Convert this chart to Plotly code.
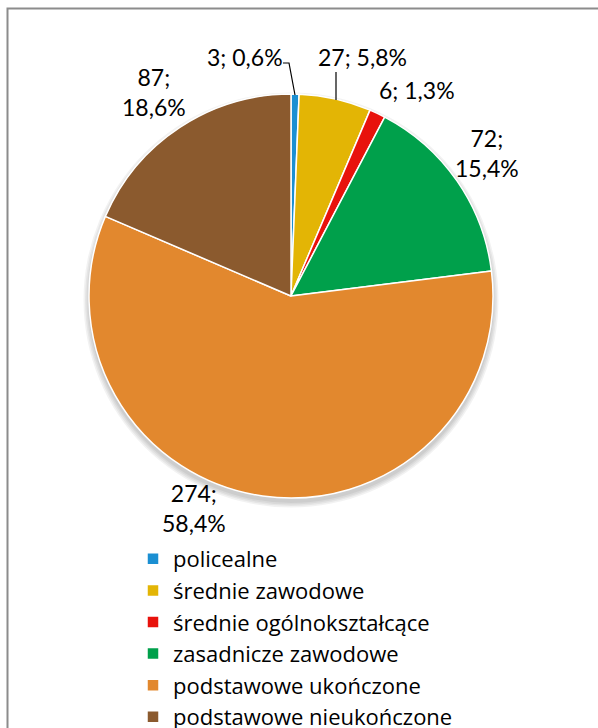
import plotly.graph_objects as go

W, H = 598, 728

categories = ["policealne", "średnie zawodowe", "średnie ogólnokształcące",
              "zasadnicze zawodowe", "podstawowe ukończone", "podstawowe nieukończone"]
values = [3, 27, 6, 72, 274, 87]
percent_labels = ["0,6%", "5,8%", "1,3%", "15,4%", "58,4%", "18,6%"]
colors = ["#1b8fd2", "#e3b505", "#e8120c", "#00a04b", "#e2882e", "#8b5a2e"]

LABEL_FONT = "Lato"
LEGEND_FONT = "Open Sans"

def px(x, y):
    return x / W, 1 - y / H

# pie geometry (pixels)
cx, cy, r = 291, 296, 202
x0, y0 = px(cx - r, cy + r)
x1, y1 = px(cx + r, cy - r)

fig = go.Figure()
fig.add_trace(go.Pie(
    labels=categories, values=values, sort=False, direction="clockwise", rotation=0,
    marker=dict(colors=colors, line=dict(color="white", width=1.5)),
    textinfo="none", hoverinfo="label+value+percent",
    domain=dict(x=[x0, x1], y=[y0, y1]),
))

# label placements (pixels) and line splitting
label_pos = [(245, 57, False), (362, 57, False), (417, 90, False),
             (487, 153, True), (194, 508, True), (154, 92, True)]
annotations = []
for v, p, (lx, ly, two) in zip(values, percent_labels, label_pos):
    txt = f"{v};<br>{p}" if two else f"{v}; {p}"
    ax, ay = px(lx, ly)
    annotations.append(dict(x=ax, y=ay, xref="paper", yref="paper", text=txt,
                            showarrow=False, xanchor="center", yanchor="middle",
                            font=dict(family=LABEL_FONT, size=23, color="#000000")))

shapes = []
# soft shadow below the pie
for i in range(4):
    rr = r + 1 + i * 1.5
    sx0, sy0 = px(cx - rr, cy + 4 + rr)
    sx1, sy1 = px(cx + rr, cy + 4 - rr)
    shapes.append(dict(type="circle", xref="paper", yref="paper", x0=sx0, y0=sy0, x1=sx1, y1=sy1,
                       fillcolor="rgba(0,0,0,0.05)", line=dict(width=0), layer="below"))
# leader lines
def path(points):
    d = ""
    for i, (x, y) in enumerate(points):
        X, Y = px(x, y)
        d += ("M" if i == 0 else "L") + f"{X},{Y} "
    return d
shapes.append(dict(type="path", xref="paper", yref="paper",
                   path=path([(283, 63), (289, 63), (295, 95)]),
                   line=dict(color="black", width=1.2)))
shapes.append(dict(type="path", xref="paper", yref="paper",
                   path=path([(336, 72), (336, 100)]),
                   line=dict(color="black", width=1.2)))
# outer frame (left and top edges only visible)
shapes.append(dict(type="path", xref="paper", yref="paper",
                   path=path([(7.5, 740), (7.5, 8.5), (620, 8.5)]),
                   line=dict(color="#8c8c8c", width=2), layer="above"))

lx, ly = px(133, 538)
fig.update_layout(
    width=W, height=H, margin=dict(l=0, r=0, t=0, b=0, autoexpand=False),
    paper_bgcolor="white", plot_bgcolor="white",
    showlegend=True,
    legend=dict(x=lx, y=ly, xanchor="left", yanchor="top", orientation="v",
                font=dict(family=LEGEND_FONT, size=22, color="#000000"),
                tracegroupgap=0, bgcolor="rgba(0,0,0,0)"),
    annotations=annotations, shapes=shapes,
)
fig.write_html("out.html", config={"displayModeBar": False},
               post_script="document.body.style.margin='0';document.body.style.overflow='hidden';")
